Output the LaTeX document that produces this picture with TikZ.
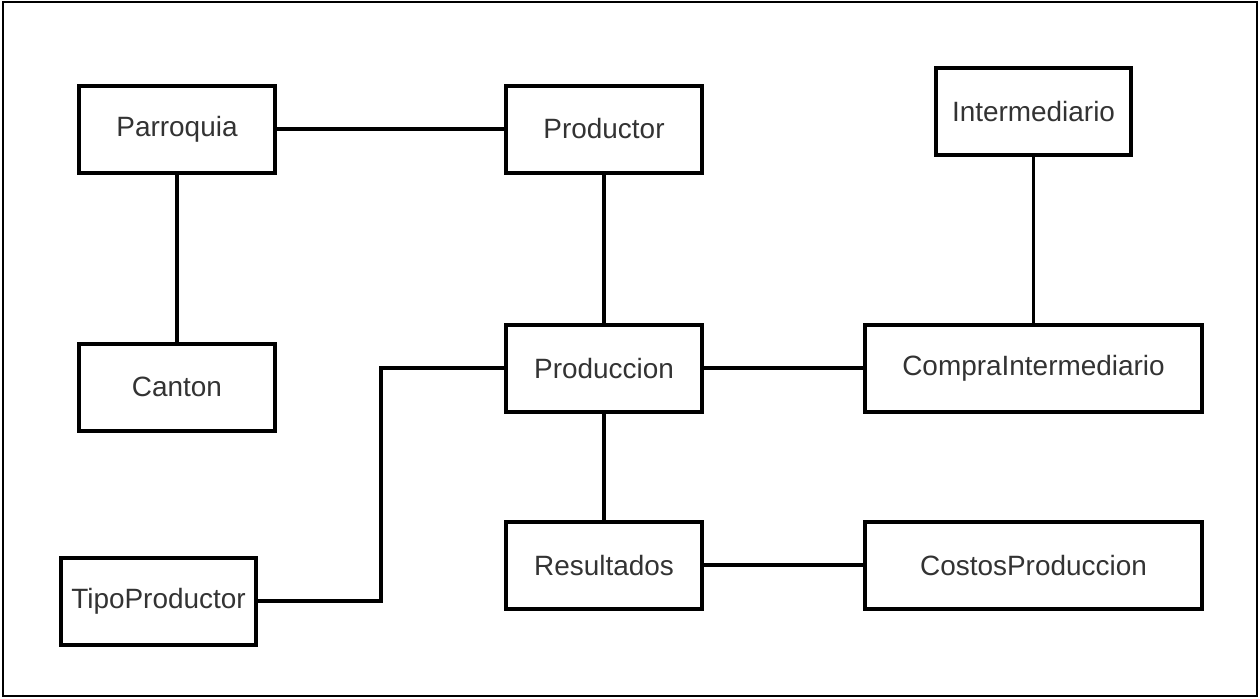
\documentclass[tikz,border=0pt]{standalone}
\usepackage{fontspec}
\setmainfont{Liberation Sans}
\usepackage{xcolor}

\tikzset{
    entidad/.style={draw, line width=0.08cm, text=black!80, minimum width=3.92cm, minimum height=1.74cm,
        font=\fontsize{15.9}{19}\selectfont},
    entidadancha/.style={entidad, minimum width=6.74cm},
    enlace/.style={line width=0.075cm},
}

\begin{document}
\begin{tikzpicture}[x=0.02cm, y=-0.02cm]
        \useasboundingbox (0,0) rectangle (1260,698);
        \draw[line width=0.03cm] (3,2) rectangle (1257,696);
        % entidades
        \node[entidad] (parroquia) at (177,129) {Parroquia};
        \node[entidad] (productor) at (604,129) {Productor};
        \node[entidad] (intermediario) at (1033.5,111.5) {Intermediario};
        \node[entidad] (canton) at (177,387) {Canton};
        \node[entidad] (produccion) at (604,368) {Produccion};
        \node[entidadancha] (compra) at (1033.5,368) {CompraIntermediario};
        \node[entidad] (tipo) at (158.5,601) {TipoProductor};
        \node[entidad] (resultados) at (604,565) {Resultados};
        \node[entidadancha] (costos) at (1033.5,565) {CostosProduccion};
        \coordinate (codo) at (381,601);
        % relaciones
        \draw[enlace] (parroquia) -- (productor);
        \draw[enlace] (parroquia) -- (canton);
        \draw[enlace] (productor) -- (produccion);
        \draw[enlace] (intermediario) -- (compra);
        \draw[enlace] (produccion) -- (compra);
        \draw[enlace] (produccion) -- (resultados);
        \draw[enlace] (resultados) -- (costos);
        \draw[enlace] (tipo) -- (codo) |- (produccion);
    \end{tikzpicture}
\end{document}
